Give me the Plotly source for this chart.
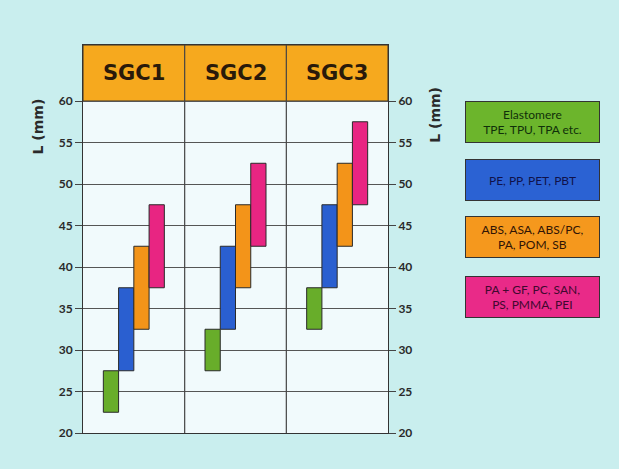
import plotly.graph_objects as go

# ---- data ----
categories = ["SGC1", "SGC2", "SGC3"]
series_names = ["Elastomere<br>TPE, TPU, TPA etc.",
                "PE, PP, PET, PBT",
                "ABS, ASA, ABS/PC,<br>PA, POM, SB",
                "PA + GF, PC, SAN,<br>PS, PMMA, PEI"]
green_low = [22.5, 27.5, 32.5]
green_high = [27.5, 32.5, 37.5]
blue_low = [27.5, 32.5, 37.5]
blue_high = [37.5, 42.5, 47.5]
orange_low = [32.5, 37.5, 42.5]
orange_high = [42.5, 47.5, 52.5]
pink_low = [37.5, 42.5, 47.5]
pink_high = [47.5, 52.5, 57.5]
tick_vals = [20, 25, 30, 35, 40, 45, 50, 55, 60]
axis_title = "L (mm)"

# ---- styles ----
bar_colors = ["#68ad2a", "#2a5fd0", "#f39419", "#e82582"]
legend_fill = ["#6cb52c", "#2b62d3", "#f5981d", "#e92a88"]
legend_text = ["#10300a", "#10124a", "#301405", "#40082f"]
header_color = "#f6a91e"
paper_bg = "#c9eeee"
plot_bg = "#f1fafc"
y_top = 66.75

lows = [green_low, blue_low, orange_low, pink_low]
highs = [green_high, blue_high, orange_high, pink_high]

fig = go.Figure()
for i in range(4):
    fig.add_trace(go.Bar(
        x=categories,
        y=[h - l for h, l in zip(highs[i], lows[i])],
        base=lows[i],
        marker=dict(color=bar_colors[i], line=dict(color="#2a2a2a", width=1)),
        name=series_names[i].replace("<br>", " "),
        showlegend=False,
    ))

# dummy trace to activate right axis
fig.add_trace(go.Scatter(x=[categories[0]], y=[None], yaxis="y2",
                         showlegend=False, hoverinfo="skip"))

shapes = []
# header band
shapes.append(dict(type="rect", xref="paper", yref="y", x0=0, x1=1, y0=tick_vals[-1], y1=y_top,
                   fillcolor=header_color, line=dict(color="#333", width=1), layer="below"))
# column separators
for k in range(1, len(categories)):
    shapes.append(dict(type="line", xref="x", yref="y", x0=k - 0.5, x1=k - 0.5,
                       y0=tick_vals[0], y1=y_top, line=dict(color="#444", width=1.2), layer="above"))

annotations = []
for c in categories:
    annotations.append(dict(x=c, y=(tick_vals[-1] + y_top) / 2, xref="x", yref="y",
                            text=c, showarrow=False, xanchor="center", yanchor="middle",
                            font=dict(family="DejaVu Sans", size=21, color="#2a1a0a", weight="bold")))

# axis titles
for xp, yp in [(-0.1475, 0.79), (1.154, 0.82)]:
    annotations.append(dict(x=xp, y=yp, xref="paper", yref="paper", text=axis_title,
                            textangle=-90, showarrow=False, xanchor="center", yanchor="middle",
                            font=dict(family="DejaVu Sans", size=14, color="#2a2a2a", weight="bold")))

# legend boxes
leg_y = [0.8015, 0.652, 0.505, 0.3518]
for i in range(4):
    annotations.append(dict(x=1.4738, y=leg_y[i], xref="paper", yref="paper",
                            text=series_names[i], showarrow=False,
                            xanchor="center", yanchor="middle",
                            width=133, height=40, align="center", valign="middle",
                            bgcolor=legend_fill[i], bordercolor="#333", borderwidth=1, borderpad=0,
                            font=dict(family="Lato", size=12, color=legend_text[i])))

axis_common = dict(range=[tick_vals[0], y_top], tickvals=tick_vals, ticks="outside",
                   ticklen=7, tickcolor="#444", tickwidth=1,
                   tickfont=dict(family="Lato", size=12, color="#2a2a2a", weight="bold"))

fig.update_layout(
    width=619, height=469,
    margin=dict(l=83, r=231, t=45, b=36),
    paper_bgcolor=paper_bg, plot_bgcolor=plot_bg,
    barmode="group", bargap=0.4, bargroupgap=0,
    xaxis=dict(showticklabels=False, showgrid=False, showline=True, mirror=True,
               linecolor="#333", linewidth=1, zeroline=False),
    yaxis=dict(**axis_common, showgrid=True, gridcolor="#555", gridwidth=1,
               showline=True, mirror=True, linecolor="#333", linewidth=1, zeroline=False),
    yaxis2=dict(**axis_common, overlaying="y", side="right", showgrid=False,
                showline=False, zeroline=False),
    shapes=shapes, annotations=annotations,
)

fig.write_html("out.html")
